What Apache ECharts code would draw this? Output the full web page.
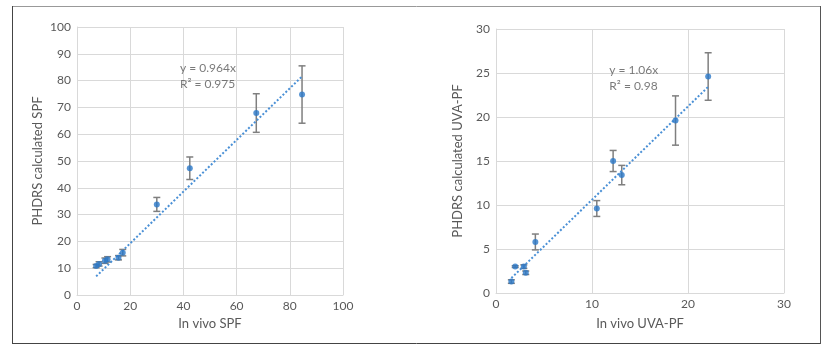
<!DOCTYPE html>
<html><head><meta charset="utf-8">
<script src="https://cdn.jsdelivr.net/npm/echarts@6/dist/echarts.min.js"></script>
<style>html,body{margin:0;padding:0;background:#fff}#c{width:829px;height:352px}</style>
</head><body><div id="c"></div>
<script>
// Left chart: SPF
const spfX = [7.2, 8.3, 10.5, 11.5, 15.6, 17.2, 30.0, 42.4, 67.4, 84.6];
const spfY = [10.8, 11.6, 12.8, 13.3, 13.9, 15.8, 33.8, 47.3, 67.9, 74.8];
const spfErr = [0.6, 0.8, 1.0, 1.0, 0.8, 1.2, 2.6, 4.2, 7.2, 10.7];
const spfSlope = 0.964;
const spfEqText = ['y = 0.964x', 'R² = 0.975'];

// Right chart: UVA-PF
const uvaX = [1.6, 2.0, 2.9, 3.1, 4.1, 10.5, 12.2, 13.1, 18.7, 22.1];
const uvaY = [1.3, 3.0, 3.0, 2.3, 5.8, 9.6, 15.0, 13.4, 19.6, 24.6];
const uvaErr = [0.2, 0.1, 0.2, 0.2, 0.9, 0.9, 1.2, 1.1, 2.8, 2.7];
const uvaSlope = 1.06;
const uvaEqText = ['y = 1.06x', 'R² = 0.98'];

const FONT = 'Lato';
const TXT = '#595959';
const GRID = '#d9d9d9';
const BLUE = '#2a78c8';
const TREND = '#4a90d6';
const ERR = '#7f7f7f';

function axisCommon(name, min, max, interval, gap, isY) {
  return {
    type: 'value', min, max, interval,
    name, nameLocation: 'middle', nameGap: gap,
    nameTextStyle: { color: TXT, fontSize: 13, fontFamily: FONT },
    axisLine: { show: true, lineStyle: { color: GRID, width: 1 } },
    axisTick: { show: false },
    axisLabel: { color: TXT, fontSize: 12, fontFamily: FONT, margin: isY ? 6 : 5 },
    splitLine: { show: true, lineStyle: { color: GRID, width: 1 } }
  };
}

function errSeries(xs, ys, es, idx) {
  return {
    type: 'custom', xAxisIndex: idx, yAxisIndex: idx, z: 2,
    data: xs.map((x, i) => [x, ys[i], es[i]]),
    renderItem: (params, api) => {
      const x = api.value(0), y = api.value(1), e = api.value(2);
      const top = api.coord([x, y + e]);
      const bot = api.coord([x, y - e]);
      const cw = 3.5;
      const st = { stroke: ERR, lineWidth: 1.5 };
      return { type: 'group', children: [
        { type: 'line', shape: { x1: top[0], y1: top[1], x2: bot[0], y2: bot[1] }, style: st },
        { type: 'line', shape: { x1: top[0] - cw, y1: top[1], x2: top[0] + cw, y2: top[1] }, style: st },
        { type: 'line', shape: { x1: bot[0] - cw, y1: bot[1], x2: bot[0] + cw, y2: bot[1] }, style: st }
      ]};
    }
  };
}

function trendSeries(xs, slope, idx) {
  const a = Math.min(...xs), b = Math.max(...xs);
  return {
    type: 'line', xAxisIndex: idx, yAxisIndex: idx, z: 3,
    data: [[a, slope * a], [b, slope * b]],
    symbol: 'none', silent: true,
    lineStyle: { color: TREND, width: 2, type: [2, 2] }
  };
}

function pointSeries(xs, ys, idx) {
  return {
    type: 'scatter', xAxisIndex: idx, yAxisIndex: idx, z: 4,
    data: xs.map((x, i) => [x, ys[i]]),
    symbol: 'circle', symbolSize: 6,
    itemStyle: { color: BLUE }
  };
}

function eqSeries(pos, lines, idx) {
  return {
    type: 'scatter', xAxisIndex: idx, yAxisIndex: idx, z: 5,
    data: [pos], symbolSize: 0, silent: true,
    label: {
      show: true, position: 'right', distance: 0, align: 'left',
      formatter: lines.join('\n'), color: TXT, fontSize: 12, fontFamily: FONT,
      lineHeight: 16
    }
  };
}

const chart = echarts.init(document.getElementById('c'));
chart.setOption({
  animation: false,
  backgroundColor: '#fff',
  graphic: [
    { type: 'line', shape: { x1: 12, y1: 6.5, x2: 821, y2: 6.5 }, style: { stroke: '#999', lineWidth: 1 }, silent: true },
    { type: 'line', shape: { x1: 12.5, y1: 6, x2: 12.5, y2: 344 }, style: { stroke: '#444', lineWidth: 1 }, silent: true },
    { type: 'line', shape: { x1: 12, y1: 343.5, x2: 821, y2: 343.5 }, style: { stroke: '#444', lineWidth: 1 }, silent: true },
    { type: 'line', shape: { x1: 820.5, y1: 6, x2: 820.5, y2: 344 }, style: { stroke: '#555', lineWidth: 1 }, silent: true }
  ],
  grid: [
    { left: 77, top: 27, width: 266, height: 268 },
    { left: 496, top: 29, width: 288, height: 264 }
  ],
  xAxis: [
    axisCommon('In vivo SPF', 0, 100, 20, 22, false),
    Object.assign(axisCommon('In vivo UVA-PF', 0, 30, 10, 24, false), { gridIndex: 1 })
  ],
  yAxis: [
    axisCommon('PHDRS calculated SPF', 0, 100, 10, 33, true),
    Object.assign(axisCommon('PHDRS calculated UVA-PF', 0, 30, 5, 32, true), { gridIndex: 1 })
  ],
  series: [
    errSeries(spfX, spfY, spfErr, 0),
    trendSeries(spfX, spfSlope, 0),
    pointSeries(spfX, spfY, 0),
    eqSeries([38.7, 81.7], spfEqText, 0),
    errSeries(uvaX, uvaY, uvaErr, 1),
    trendSeries(uvaX, uvaSlope, 1),
    pointSeries(uvaX, uvaY, 1),
    eqSeries([11.8, 24.4], uvaEqText, 1)
  ]
});
</script>
</body></html>
